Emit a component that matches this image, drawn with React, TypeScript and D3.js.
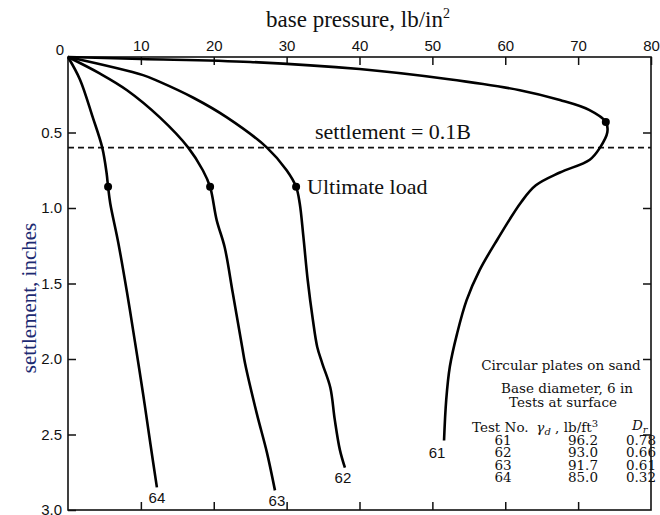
import React, { useEffect, useRef } from 'react';
import * as d3 from 'd3';

// load-settlement curves: [base pressure (lb/in2), settlement (in)]
const test61 = [
  [0, 0], [10, 0.013], [25, 0.033], [40, 0.08], [52, 0.146], [62, 0.22], [67.5, 0.285],
  [71.5, 0.35], [73.8, 0.43], [74.0, 0.5], [73.0, 0.6], [71.6, 0.68], [67.5, 0.765],
  [64.2, 0.85], [62.2, 0.96], [58.9, 1.21], [56.5, 1.41], [54.7, 1.61], [53.4, 1.83],
  [52.4, 2.05], [51.9, 2.27], [51.6, 2.54]
];
const test62 = [
  [0, 0], [10.3, 0.12], [12.6, 0.165], [17.2, 0.27], [21.8, 0.4], [27.3, 0.6],
  [30, 0.75], [31.3, 0.86], [31.8, 0.97], [32.3, 1.19], [32.9, 1.48], [33.6, 1.74],
  [34.2, 1.92], [34.9, 2.03], [36, 2.19], [36.6, 2.4], [37.3, 2.6], [38, 2.72]
];
const test63 = [
  [0, 0], [4.4, 0.11], [8.1, 0.22], [12.6, 0.4], [16.5, 0.6], [18.5, 0.75], [19.5, 0.86],
  [20.4, 1.08], [21.5, 1.26], [22.6, 1.56], [23.9, 1.92], [24.3, 2.03], [25.9, 2.36],
  [27.3, 2.62], [28.4, 2.87]
];
const test64 = [
  [0, 0], [1.65, 0.15], [3.4, 0.4], [4.7, 0.6], [5.3, 0.77], [5.5, 0.86], [5.8, 0.97],
  [6.9, 1.23], [8.1, 1.56], [9.2, 1.89], [10.3, 2.23], [11.3, 2.56], [12.2, 2.85]
];
const curveNames = ['61', '62', '63', '64'];
// label offsets from each curve end (px)
const labelOffsets = [[-7, 12], [-2, 10], [2, 10], [0, 10]];

const ultimateLoads = [[5.5, 0.86], [19.5, 0.86], [31.3, 0.86], [73.8, 0.43]];
const settlementLimit = 0.6; // 0.1B for a 6 in plate

const xTicks = [10, 20, 30, 40, 50, 60, 70, 80];
const yTicks = [0.5, 1.0, 1.5, 2.0, 2.5, 3.0];

// legend table
const testNos = ['61', '62', '63', '64'];
const unitWeights = ['96.2', '93.0', '91.7', '85.0'];
const relDensities = ['0.78', '0.66', '0.61', '0.32'];

const serif = '"Liberation Serif", "Times New Roman", serif';
const legendFont = '"DejaVu Serif", serif';
const sans = '"Liberation Sans", Arial, sans-serif';

const App = () => {
  const ref = useRef(null);

  useEffect(() => {
    const svg = d3.select(ref.current);
    svg.selectAll('*').remove();

    const x = d3.scaleLinear().domain([0, 80]).range([68, 651]);
    const y = d3.scaleLinear().domain([0, 3]).range([57, 510]);

    // top axis (with labels)
    const top = svg.append('g')
      .attr('transform', `translate(0,${y(0)})`)
      .call(d3.axisTop(x).tickValues(xTicks).tickSizeInner(-8).tickSizeOuter(0).tickPadding(6));
    // left axis (with labels)
    const left = svg.append('g')
      .attr('transform', `translate(${x(0)},0)`)
      .call(d3.axisLeft(y).tickValues(yTicks).tickFormat(d3.format('.1f')).tickSizeInner(-8).tickSizeOuter(0).tickPadding(6));
    // bottom + right axes, ticks only
    const bottom = svg.append('g')
      .attr('transform', `translate(0,${y(3)})`)
      .call(d3.axisBottom(x).tickValues(xTicks.slice(0, -1)).tickFormat(() => '').tickSizeInner(-8).tickSizeOuter(0));
    const right = svg.append('g')
      .attr('transform', `translate(${x(80)},0)`)
      .call(d3.axisRight(y).tickValues(yTicks.slice(0, -1)).tickFormat(() => '').tickSizeInner(-8).tickSizeOuter(0));

    [top, left, bottom, right].forEach(g => {
      g.select('.domain').remove();
      g.selectAll('line').attr('stroke', '#111').attr('stroke-width', 1.5);
      g.selectAll('text').attr('font-family', sans).attr('font-size', 15).attr('fill', '#111');
    });

    svg.append('rect')
      .attr('x', x(0)).attr('y', y(0))
      .attr('width', x(80) - x(0)).attr('height', y(3) - y(0))
      .attr('fill', 'none').attr('stroke', '#111').attr('stroke-width', 1.6);

    svg.append('text')
      .attr('x', x(0) - 8).attr('y', y(0) - 2)
      .attr('text-anchor', 'middle')
      .attr('font-family', sans).attr('font-size', 15).attr('fill', '#111')
      .text('0');

    // axis titles
    const xt = svg.append('text')
      .attr('x', 358).attr('y', 27)
      .attr('text-anchor', 'middle')
      .attr('font-family', serif).attr('font-size', 23).attr('fill', '#111');
    xt.append('tspan').text('base pressure, lb/in');
    xt.append('tspan').attr('dy', -9).attr('font-size', 14).text('2');

    svg.append('text')
      .attr('transform', 'translate(36,298) rotate(-90)')
      .attr('text-anchor', 'middle')
      .attr('font-family', serif).attr('font-size', 21).attr('fill', '#1c2a72')
      .text('settlement, inches');

    // 0.1B line
    svg.append('line')
      .attr('x1', x(0)).attr('x2', x(80))
      .attr('y1', y(settlementLimit)).attr('y2', y(settlementLimit))
      .attr('stroke', '#111').attr('stroke-width', 1.6)
      .attr('stroke-dasharray', '6,4');

    svg.append('text')
      .attr('x', 315).attr('y', y(settlementLimit) - 9)
      .attr('font-family', serif).attr('font-size', 22).attr('fill', '#111')
      .text('settlement = 0.1B');

    const line = d3.line()
      .x(d => x(d[0]))
      .y(d => y(d[1]))
      .curve(d3.curveCatmullRom.alpha(0.5));

    const curves = [test61, test62, test63, test64];
    curves.forEach((c, i) => {
      svg.append('path')
        .attr('d', line(c))
        .attr('fill', 'none')
        .attr('stroke', '#000')
        .attr('stroke-width', 2.6)
        .attr('stroke-linejoin', 'round');

      const end = c[c.length - 1];
      svg.append('text')
        .attr('x', x(end[0]) + labelOffsets[i][0])
        .attr('y', y(end[1]) + labelOffsets[i][1])
        .attr('text-anchor', 'middle')
        .attr('dominant-baseline', 'central')
        .attr('font-family', sans).attr('font-size', 15).attr('fill', '#111')
        .text(curveNames[i]);
    });

    svg.selectAll('.ult')
      .data(ultimateLoads)
      .enter().append('circle')
      .attr('class', 'ult')
      .attr('cx', d => x(d[0]))
      .attr('cy', d => y(d[1]))
      .attr('r', 4)
      .attr('fill', '#000');

    svg.append('text')
      .attr('x', x(ultimateLoads[2][0]) + 11).attr('y', y(ultimateLoads[2][1]) + 7)
      .attr('font-family', serif).attr('font-size', 22).attr('fill', '#111')
      .text('Ultimate load');

    // legend block
    const lg = svg.append('g')
      .attr('font-family', legendFont).attr('font-size', 13.5).attr('fill', '#111');
    lg.append('text').attr('x', 561).attr('y', 370).attr('text-anchor', 'middle').text('Circular plates on sand');
    lg.append('text').attr('x', 567).attr('y', 393).attr('text-anchor', 'middle').text('Base diameter, 6 in');
    lg.append('text').attr('x', 563).attr('y', 407).attr('text-anchor', 'middle').text('Tests at surface');

    lg.append('text').attr('x', 472).attr('y', 432).text('Test No.');
    const gh = lg.append('text').attr('x', 598).attr('y', 432).attr('text-anchor', 'end');
    gh.append('tspan').attr('font-style', 'italic').text('γ');
    gh.append('tspan').attr('font-style', 'italic').attr('font-size', 10).attr('dy', 3).text('d');
    gh.append('tspan').attr('dy', -3).text(' , lb/ft');
    gh.append('tspan').attr('font-size', 10).attr('dy', -5).text('3');
    const dh = lg.append('text').attr('x', 632).attr('y', 430);
    dh.append('tspan').attr('font-style', 'italic').text('D');
    dh.append('tspan').attr('font-style', 'italic').attr('font-size', 10).attr('dy', 3).text('r');

    testNos.forEach((t, i) => {
      const yy = 445 + i * 12.4;
      lg.append('text').attr('x', 503).attr('y', yy).attr('text-anchor', 'middle').text(t);
      lg.append('text').attr('x', 598).attr('y', yy).attr('text-anchor', 'end').text(unitWeights[i]);
      lg.append('text').attr('x', 641).attr('y', yy).attr('text-anchor', 'middle').text(relDensities[i]);
    });
  }, []);

  return (
    <svg ref={ref} width={660} height={515}
      style={{ position: 'absolute', left: 0, top: 0, background: '#fff' }} />
  );
};

export default App;
